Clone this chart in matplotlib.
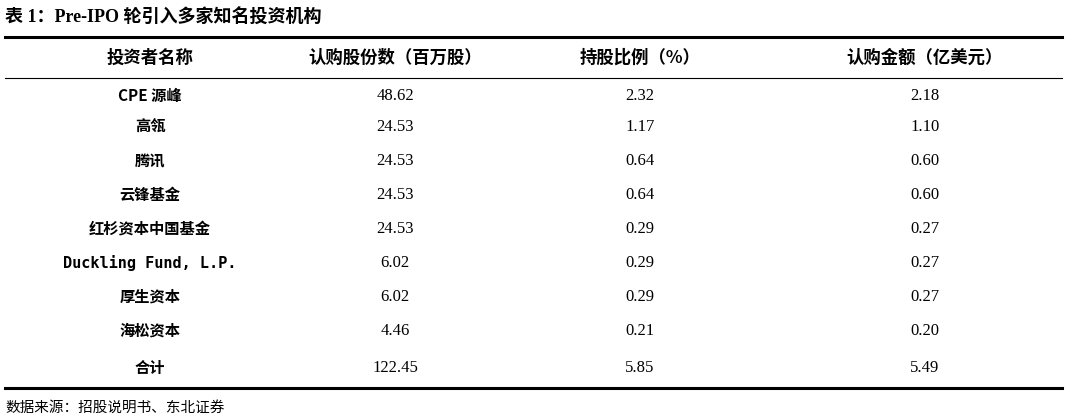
import matplotlib
matplotlib.use("Agg")
import matplotlib.pyplot as plt

title = "表 1：Pre-IPO 轮引入多家知名投资机构"
headers = ["投资者名称", "认购股份数（百万股）", "持股比例（%）", "认购金额（亿美元）"]
names = ["CPE 源峰", "高瓴", "腾讯", "云锋基金", "红杉资本中国基金", "Duckling Fund, L.P.", "厚生资本", "海松资本", "合计"]
shares = ["48.62", "24.53", "24.53", "24.53", "24.53", "6.02", "6.02", "4.46", "122.45"]
ratio = ["2.32", "1.17", "0.64", "0.64", "0.29", "0.29", "0.29", "0.21", "5.85"]
amount = ["2.18", "1.10", "0.60", "0.60", "0.27", "0.27", "0.27", "0.20", "5.49"]
source = "数据来源：招股说明书、东北证券"

W, H = 1071, 418
fig = plt.figure(figsize=(W/100, H/100), dpi=100)
ax = fig.add_axes([0, 0, 1, 1])
ax.set_xlim(0, W); ax.set_ylim(H, 0); ax.axis("off")
cjk = "Noto Sans CJK SC"
serif = "Liberation Serif"

ax.text(5, 18, title, fontfamily=[serif, cjk], fontsize=13, fontweight="bold", va="center", ha="left")
ax.plot([5, 1062], [37, 37], color="black", lw=2.2)
ax.plot([5, 1062], [78, 78], color="black", lw=0.8)
ax.plot([5, 1062], [388, 388], color="black", lw=2.2)

cols = [150, 395, 640, 925]
for x, h in zip(cols, headers):
    ax.text(x, 58, h, fontfamily=cjk, fontsize=12.5, fontweight="bold", ha="center", va="center")

ys = [96, 127, 161, 195, 229, 263, 297, 331, 368]
for i, y in enumerate(ys):
    fam = "DejaVu Sans Mono" if names[i].startswith("Duckling") else cjk
    ax.text(cols[0], y, names[i], fontfamily=[fam, cjk], fontsize=11, fontweight="bold", ha="center", va="center")
    for x, v in zip(cols[1:], [shares[i], ratio[i], amount[i]]):
        ax.text(x, y, v, fontfamily=serif, fontsize=12, ha="center", va="center")

ax.text(5, 408, source, fontfamily=cjk, fontsize=10.5, ha="left", va="center")
fig.savefig("out.png", dpi=100)
